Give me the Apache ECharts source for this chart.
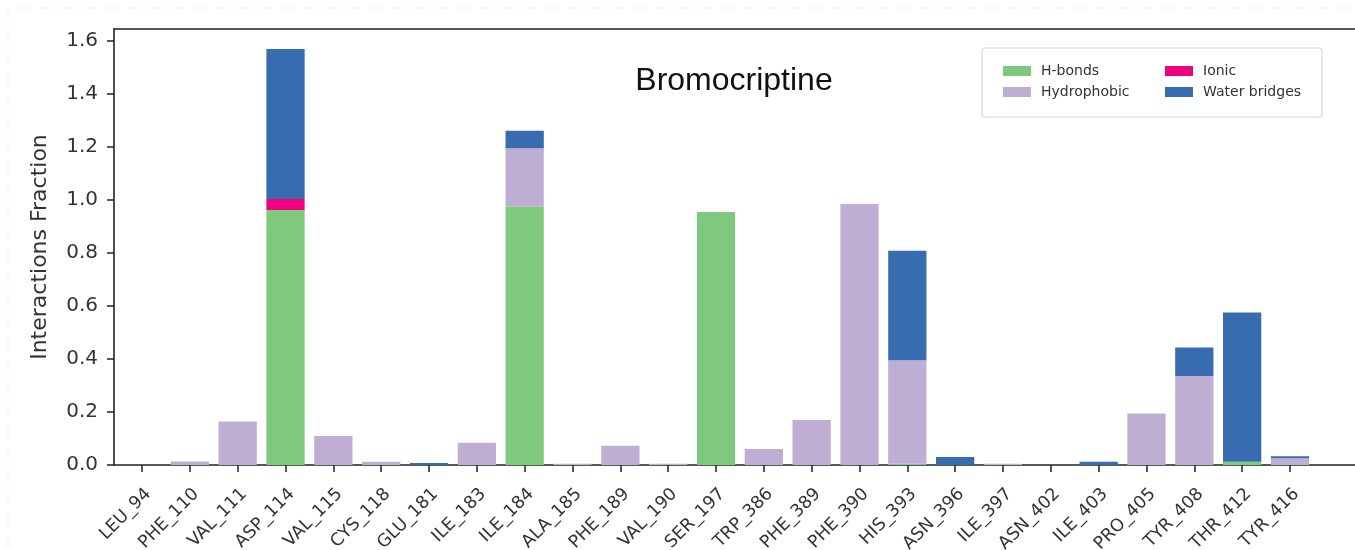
<!DOCTYPE html>
<html>
<head>
<meta charset="utf-8">
<script src="https://cdn.jsdelivr.net/npm/echarts@6/dist/echarts.min.js"></script>
<style>
  html, body { margin: 0; padding: 0; background: #ffffff; }
  #chart { width: 1355px; height: 550px; }
</style>
</head>
<body>
<div id="chart"></div>
<script>
// Residues contacted by the ligand during the simulation
const categories = ['LEU_94', 'PHE_110', 'VAL_111', 'ASP_114', 'VAL_115', 'CYS_118', 'GLU_181',
  'ILE_183', 'ILE_184', 'ALA_185', 'PHE_189', 'VAL_190', 'SER_197', 'TRP_386', 'PHE_389',
  'PHE_390', 'HIS_393', 'ASN_396', 'ILE_397', 'ASN_402', 'ILE_403', 'PRO_405', 'TYR_408',
  'THR_412', 'TYR_416'];

// Interaction fractions per residue, one array per interaction type (stacked in this order)
const hbonds      = [0, 0, 0, 0.962, 0, 0, 0, 0, 0.975, 0, 0, 0, 0.955, 0, 0, 0, 0.005, 0, 0, 0, 0, 0, 0, 0.012, 0];
const hydrophobic = [0, 0.013, 0.164, 0, 0.109, 0.012, 0, 0.084, 0.220, 0.005, 0.073, 0.005, 0, 0.060, 0.170, 0.985, 0.390, 0, 0.005, 0, 0, 0.194, 0.336, 0, 0.025];
const ionic       = [0, 0, 0, 0.042, 0, 0, 0, 0, 0, 0, 0, 0, 0, 0, 0, 0, 0, 0, 0, 0, 0, 0, 0, 0, 0];
const water       = [0, 0, 0, 0.566, 0, 0, 0.008, 0, 0.066, 0, 0, 0, 0, 0, 0, 0, 0.413, 0.030, 0, 0, 0.012, 0, 0.107, 0.563, 0.008];

const yTicks = [0, 0.2, 0.4, 0.6, 0.8, 1.0, 1.2, 1.4, 1.6];
const yMax = 1.645;

const colors = {
  'H-bonds': '#7fc97f',
  'Hydrophobic': '#beaed4',
  'Ionic': '#f0027f',
  'Water bridges': '#386cb0'
};

const chart = echarts.init(document.getElementById('chart'), null, { renderer: 'canvas' });

const FONT = 'DejaVu Sans';
const AXIS = '#222222';

function barSeries(name, values) {
  return {
    name: name,
    type: 'bar',
    stack: 'total',
    xAxisIndex: 2,
    yAxisIndex: 1,
    barCategoryGap: '20%',
    itemStyle: { color: colors[name] },
    emphasis: { disabled: true },
    data: values
  };
}

const legendText = { fontFamily: FONT, fontSize: 14, color: '#333333', padding: [0, 0, 0, 5] };

const option = {
  animation: false,
  backgroundColor: '#ffffff',
  title: {
    text: 'Bromocriptine',
    left: 729,
    top: 60,
    textAlign: 'center',
    textStyle: { fontFamily: 'Liberation Sans', fontSize: 32, fontWeight: 'normal', color: '#111111' }
  },
  graphic: [
    // faint page edge
    {
      type: 'polyline',
      shape: { points: [[8, 549], [8, 8], [1354, 8]] },
      style: { fill: 'none', stroke: '#f1f1f1', lineWidth: 1, lineDash: [14, 8] },
      silent: true, z: -10
    },
    // legend frame
    {
      type: 'rect',
      shape: { x: 982, y: 48, width: 340, height: 69, r: 3 },
      style: { fill: '#ffffff', stroke: '#d8d8d8', lineWidth: 1.2 },
      silent: true, z: 5
    }
  ],
  legend: [
    {
      orient: 'vertical',
      left: 998, top: 59,
      itemWidth: 28, itemHeight: 10, itemGap: 7,
      icon: 'rect',
      selectedMode: false,
      z: 10,
      textStyle: legendText,
      data: ['H-bonds', 'Hydrophobic']
    },
    {
      orient: 'vertical',
      left: 1160, top: 59,
      itemWidth: 28, itemHeight: 10, itemGap: 7,
      icon: 'rect',
      selectedMode: false,
      z: 10,
      textStyle: legendText,
      data: ['Ionic', 'Water bridges']
    }
  ],
  grid: [
    // frame grid carrying the spines and the value axis
    { left: 114, right: 0, top: 29, bottom: 85, outerBoundsMode: 'none', containLabel: false },
    // bar grid: one band per residue
    { left: 118.1, right: 41.1, top: 29, bottom: 85, outerBoundsMode: 'none', containLabel: false }
  ],
  xAxis: [
    {
      gridIndex: 0, type: 'value', min: 0, max: 1, position: 'bottom',
      axisLine: { show: true, lineStyle: { color: AXIS, width: 1.6 } },
      axisTick: { show: false }, axisLabel: { show: false }, splitLine: { show: false }
    },
    {
      gridIndex: 0, type: 'value', min: 0, max: 1, position: 'top',
      axisLine: { show: true, lineStyle: { color: AXIS, width: 1.6 } },
      axisTick: { show: false }, axisLabel: { show: false }, splitLine: { show: false }
    },
    {
      gridIndex: 1, type: 'category', data: categories, position: 'bottom',
      axisLine: { show: false },
      axisTick: { show: true, alignWithLabel: true, length: 7, lineStyle: { color: AXIS, width: 1.5 } },
      axisLabel: {
        interval: 0, rotate: 45, margin: 20, verticalAlign: 'top',
        fontFamily: FONT, fontSize: 17.5, color: '#333333'
      },
      splitLine: { show: false }
    }
  ],
  yAxis: [
    {
      gridIndex: 0, type: 'value', min: 0, max: yMax,
      name: 'Interactions Fraction', nameLocation: 'middle', nameGap: 63,
      nameTextStyle: { fontFamily: FONT, fontSize: 22, color: '#333333' },
      axisLine: { show: true, lineStyle: { color: AXIS, width: 1.6 } },
      axisTick: { show: true, length: 7, customValues: yTicks, lineStyle: { color: AXIS, width: 1.5 } },
      axisLabel: {
        customValues: yTicks, margin: 16,
        fontFamily: FONT, fontSize: 20, color: '#333333',
        formatter: v => v.toFixed(1)
      },
      splitLine: { show: false }
    },
    {
      gridIndex: 1, type: 'value', min: 0, max: yMax, show: false
    }
  ],
  series: [
    barSeries('H-bonds', hbonds),
    barSeries('Hydrophobic', hydrophobic),
    barSeries('Ionic', ionic),
    barSeries('Water bridges', water)
  ]
};

chart.setOption(option);
</script>
</body>
</html>
